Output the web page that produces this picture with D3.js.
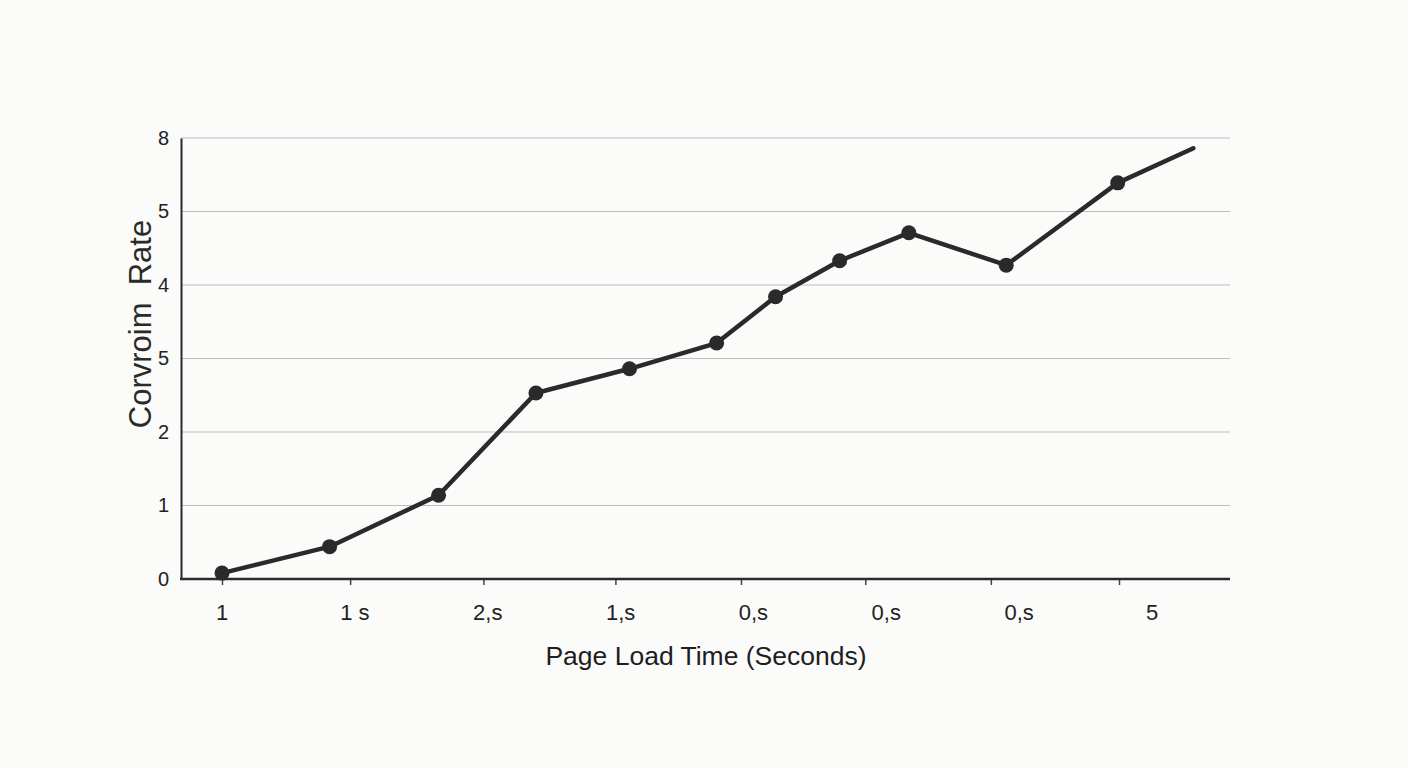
<!DOCTYPE html>
<html><head><meta charset="utf-8">
<script src="https://cdn.jsdelivr.net/npm/d3@7"></script>
<style>html,body{margin:0;padding:0;background:#fbfbfa;}svg{display:block;font-family:"Liberation Sans",Arial,sans-serif;}</style>
</head><body>
<svg id="c" width="1408" height="768"></svg>
<script>
// Data (x in tick-index units, y in gridline-index units)
const xValues = [0, 0.84, 1.69, 2.45, 3.18, 3.86, 4.32, 4.82, 5.36, 6.12, 6.99, 7.58];
const yValues = [0.08, 0.44, 1.14, 2.53, 2.86, 3.21, 3.84, 4.33, 4.71, 4.27, 5.39, 5.86];
const markerShown = [1,1,1,1,1,1,1,1,1,1,1,0];
const xTickPositions = [0, 1, 2.04, 3.07, 4.05, 5.02, 6, 7];
const xTickLabels = ["1", "1 s", "2,s", "1,s", "0,s", "0,s", "0,s", "5"];
const yTickLabels = ["0", "1", "2", "5", "4", "5", "8"];
const xTitle = "Page Load Time (Seconds)";
const yTitle = "Corvroim\u00a0 Rate";

const svg = d3.select("#c");
const plotLeft = 181, plotRight = 1230, plotTop = 138, plotBottom = 579;

const y = d3.scaleLinear().domain([0, 6]).range([plotBottom, plotTop]);
const x = d3.scaleLinear().domain([0, 7]).range([222, 1119]);
const xLab = d3.scalePoint().domain(d3.range(xTickLabels.length)).range([222, 1152]);

// gridlines
svg.append("g").selectAll("line").data(d3.range(1, 7)).join("line")
  .attr("x1", plotLeft).attr("x2", plotRight)
  .attr("y1", d => y(d)).attr("y2", d => y(d))
  .attr("stroke", "#bdbdbd").attr("stroke-width", 1.2);

// y axis
const yAxis = d3.axisLeft(y).tickValues(d3.range(0, 7)).tickSize(0).tickPadding(12)
  .tickFormat(d => yTickLabels[d]);
const gy = svg.append("g").attr("transform", `translate(${plotLeft},0)`).call(yAxis);
gy.select(".domain").attr("stroke", "#2b2b2b").attr("stroke-width", 2);
gy.selectAll("text").attr("font-size", 20).attr("fill", "#222").attr("font-family", "Liberation Sans, Arial, sans-serif");

// x axis ticks
const xAxis = d3.axisBottom(x).tickValues(xTickPositions).tickSize(6).tickFormat("");
const gx = svg.append("g").attr("transform", `translate(0,${plotBottom})`).call(xAxis);
gx.select(".domain").remove();
gx.selectAll(".tick line").attr("stroke", "#444").attr("stroke-width", 1.5);
svg.append("line").attr("x1", plotLeft - 1).attr("x2", plotRight).attr("y1", plotBottom).attr("y2", plotBottom)
  .attr("stroke", "#2b2b2b").attr("stroke-width", 2.5);

// x tick labels
svg.append("g").selectAll("text").data(xTickLabels).join("text")
  .attr("x", (d, i) => xLab(i)).attr("y", 620)
  .attr("text-anchor", "middle").attr("font-size", 22).attr("fill", "#222")
  .text(d => d);

// titles
svg.append("text").attr("x", 706).attr("y", 665).attr("text-anchor", "middle")
  .attr("font-size", 26.5).attr("fill", "#1e1e1e").text(xTitle);
svg.append("text").attr("transform", "translate(151,324) rotate(-90)").attr("text-anchor", "middle")
  .attr("font-size", 31).attr("fill", "#2a2a2a").text(yTitle);

// line
const pts = xValues.map((v, i) => ({x: v, y: yValues[i], m: markerShown[i]}));
svg.append("path").datum(pts)
  .attr("d", d3.line().x(d => x(d.x)).y(d => y(d.y)))
  .attr("fill", "none").attr("stroke", "#2a2a2a").attr("stroke-width", 4.5)
  .attr("stroke-linejoin", "round").attr("stroke-linecap", "round");
svg.append("g").selectAll("circle").data(pts.filter(d => d.m)).join("circle")
  .attr("cx", d => x(d.x)).attr("cy", d => y(d.y)).attr("r", 7.5)
  .attr("fill", "#2a2a2a");
</script>
</body></html>
